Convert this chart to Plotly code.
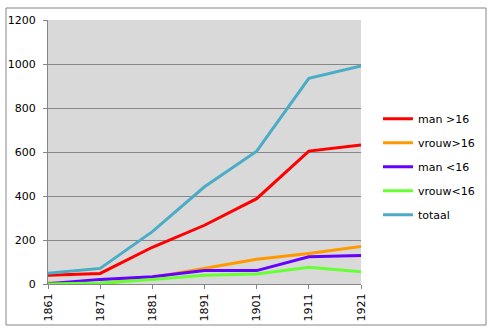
import plotly.graph_objects as go

years = [1861, 1871, 1881, 1891, 1901, 1911, 1921]
man_boven16 = [40, 48, 167, 267, 388, 604, 632]
vrouw_boven16 = [5, 0, 30, 71, 112, 139, 171]
man_onder16 = [1, 21, 33, 61, 61, 124, 130]
vrouw_onder16 = [0, 4, 21, 40, 45, 76, 56]
totaal = [49, 71, 238, 442, 604, 935, 991]

series = [
    ("man >16", man_boven16, "#FF0000"),
    ("vrouw>16", vrouw_boven16, "#FF9900"),
    ("man <16", man_onder16, "#6600FF"),
    ("vrouw<16", vrouw_onder16, "#66FF33"),
    ("totaal", totaal, "#4BACC6"),
]

fig = go.Figure()
for i, (name, vals, col) in enumerate(series):
    fig.add_trace(go.Scatter(x=years, y=vals, mode="lines", name=name,
                             line=dict(color=col, width=3), legendgroup=f"g{i}"))

W, H = 494, 332
l, r, t, b = 48, 133, 20, 48
pw, ph = W - l - r, H - t - b

fig.update_layout(
    width=W, height=H,
    margin=dict(l=l, r=r, t=t, b=b, autoexpand=False),
    paper_bgcolor="white",
    plot_bgcolor="#D9D9D9",
    font=dict(family="DejaVu Sans", size=11, color="black"),
    showlegend=True,
    legend=dict(x=1.0543, y=0.681, xanchor="left", yanchor="top",
                traceorder="grouped", tracegroupgap=5,
                font=dict(size=11), bgcolor="rgba(0,0,0,0)", itemwidth=30),
    xaxis=dict(range=[1861, 1921], tickmode="array", tickvals=years,
               ticktext=[str(y) for y in years], tickangle=-90,
               showgrid=False, showline=True, linecolor="#868686", linewidth=1,
               ticks="outside", ticklen=4, tickcolor="#868686", zeroline=False),
    yaxis=dict(range=[0, 1200], tickvals=[0, 200, 400, 600, 800, 1000, 1200],
               showgrid=True, gridcolor="#868686", gridwidth=1,
               showline=True, linecolor="#868686", linewidth=1,
               ticks="outside", ticklen=4, tickcolor="#868686", zeroline=False,
               ticklabelstandoff=5),
)

fig.add_shape(type="rect", xref="paper", yref="paper",
              x0=(6 - l) / pw, x1=(486 - l) / pw,
              y0=(H - b - 325) / ph, y1=(H - b - 8) / ph,
              line=dict(color="#868686", width=1), fillcolor="rgba(0,0,0,0)",
              layer="below")

fig.write_html("out.html")
